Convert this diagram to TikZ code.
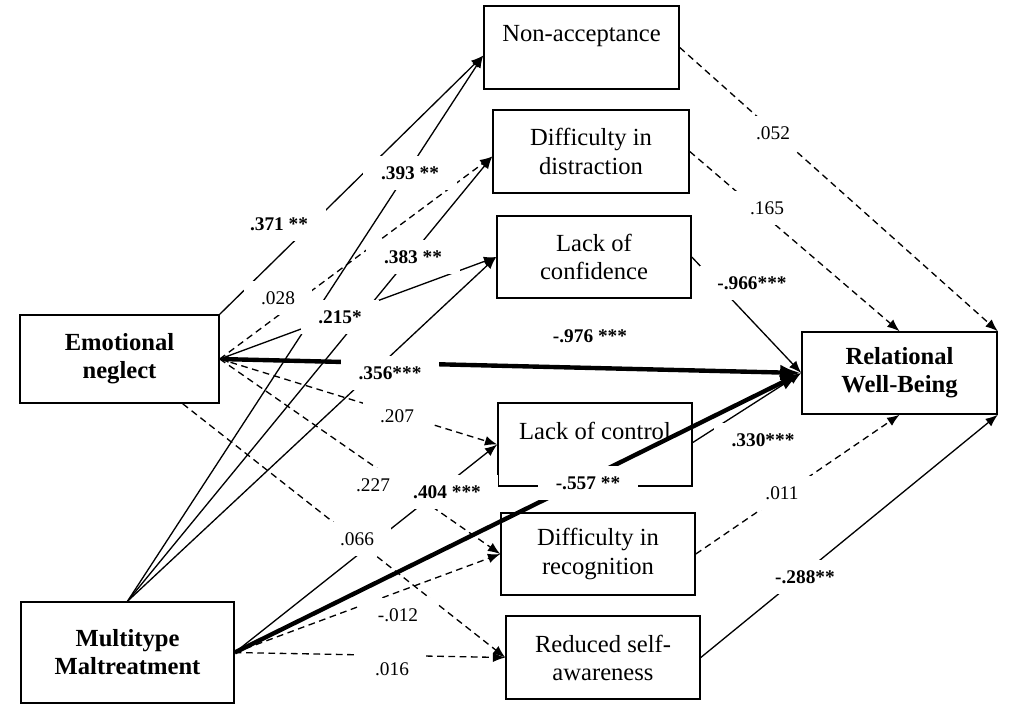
\documentclass[tikz,border=0pt]{standalone}
\usepackage{fontspec}
\setmainfont{Liberation Serif}
\usepackage{tikz}
\usetikzlibrary{arrows.meta,calc}

\tikzset{
  varbox/.style={draw, line width=0.9pt, align=center, inner sep=2pt,
    font=\fontsize{14}{16}\selectfont},
  keybox/.style={varbox, font=\fontsize{14}{16}\selectfont\bfseries},
  coef/.style={fill=white, inner xsep=10pt, inner ysep=6pt,
    font=\fontsize{11}{13}\selectfont},
  sigcoef/.style={coef, font=\fontsize{11}{13}\selectfont\bfseries},
  link/.style={line width=0.75pt},
  dlink/.style={line width=0.75pt, dash pattern=on 3.8pt off 2.6pt},
  heavy/.style={line width=2.5pt}
}

\begin{document}
\begin{tikzpicture}[x=0.02cm, y=-0.02cm, >={Latex[length=7pt,width=5.5pt]}]
    \useasboundingbox (0,0) rectangle (1016,704);
    % exogenous variables
    \node[keybox, minimum width=3.98cm, minimum height=1.76cm] (neglect) at (119.5,359) {Emotional\\neglect};
    \node[keybox, minimum width=4.26cm, minimum height=2.02cm] (maltreat) at (127.5,652.5) {Multitype\\Maltreatment};
    % mediators
    \node[varbox, minimum width=3.9cm, minimum height=1.66cm] (nonacc) at (581.5,47.5) {Non-acceptance\\\mbox{}};
    \node[varbox, minimum width=3.92cm, minimum height=1.66cm] (distr) at (591,151.5) {Difficulty in\\distraction};
    \node[varbox, minimum width=3.88cm, minimum height=1.64cm] (confid) at (594,257) {Lack of\\confidence};
    \node[varbox, minimum width=3.88cm, minimum height=1.66cm] (control) at (595,444.5) {Lack of control\\\mbox{}};
    \node[varbox, minimum width=3.88cm, minimum height=1.64cm] (recog) at (598,554) {Difficulty in\\recognition};
    \node[varbox, minimum width=3.88cm, minimum height=1.66cm] (selfaw) at (603,657.5) {Reduced self-\\awareness};
    % outcome
    \node[keybox, minimum width=3.9cm, minimum height=1.64cm] (rwb) at (899.5,373) {Relational\\Well-Being};

    % paths from emotional neglect
    \draw[link,->] (neglect.north east) -- ($(nonacc.west)+(0,8)$);
    \draw[dlink,->] (neglect.east) -- ($(distr.west)+(0,5)$);
    \draw[link,->] (neglect.east) -- (confid.west);
    \draw[dlink,->] (neglect.east) -- (control.west);
    \draw[dlink,->] (neglect.east) -- (recog.west);
    \draw[dlink,->] ($(neglect.south east)+(-37,0)$) -- (selfaw.west);
    \draw[heavy,{Latex[length=5pt,width=4.5pt]}-{Latex[length=12pt,width=9pt]}] (neglect.east) -- (rwb.west);

    % paths from multitype maltreatment
    \draw[link,->] (maltreat.north) -- ($(nonacc.west)+(0,8)$);
    \draw[link,->] (maltreat.north) -- ($(distr.west)+(0,5)$);
    \draw[link,->] (maltreat.north) -- (confid.west);
    \draw[link,->] (maltreat.east) -- (control.west);
    \draw[dlink,->] (maltreat.east) -- (recog.west);
    \draw[dlink,->] (maltreat.east) -- (selfaw.west);
    \draw[heavy,-{Latex[length=12pt,width=9pt]}] (maltreat.east) -- (rwb.west);

    % mediators to relational well-being
    \draw[dlink,->] (nonacc.east) -- (rwb.north east);
    \draw[dlink,->] (distr.east) -- (rwb.north);
    \draw[link,->] (confid.east) -- (rwb.west);
    \draw[link,->] ($(control.east)+(0,-2)$) -- (rwb.west);
    \draw[dlink,->] (recog.east) -- (rwb.south);
    \draw[link,->] (selfaw.east) -- (rwb.south east);

    % coefficients
    \node[sigcoef] (c371) at (279,224) {.371 **};
    \node[sigcoef] (c393) at (410,173) {.393 **};
    \node[coef] (c028) at (278,298) {.028};
    \node[sigcoef] (c383) at (413,257) {.383 **};
    \node[sigcoef] (c215) at (340,317) {.215*};
    \node[sigcoef] (c976) at (590,336) {-.976 ***};
    \node[sigcoef] (c356) at (390,373) {.356***};
    \node[coef] (c207) at (397,416) {.207};
    \node[coef] (c227) at (373,485) {.227};
    \node[sigcoef] (c404) at (447,492) {.404 ***};
    \node[coef] (c066) at (357,539) {.066};
    \node[sigcoef] (c557) at (588,483) {-.557 **};
    \node[coef] (c012) at (398,615) {-.012};
    \node[coef] (c016) at (392,669) {.016};
    \node[coef] (c052) at (773,133) {.052};
    \node[coef] (c165) at (767,208) {.165};
    \node[sigcoef] (c966) at (752,283) {-.966***};
    \node[sigcoef] (c330) at (763,440) {.330***};
    \node[coef] (c011) at (782,493) {.011};
    \node[sigcoef] (c288) at (805,577) {-.288**};
\end{tikzpicture}
\end{document}
